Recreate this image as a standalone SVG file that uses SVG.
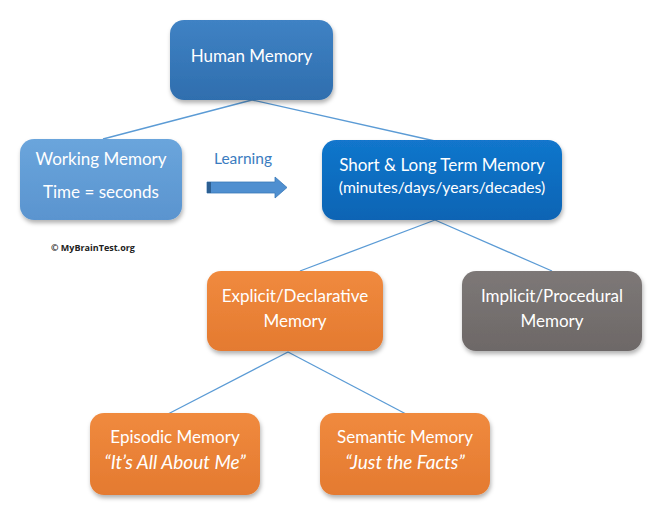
<svg xmlns="http://www.w3.org/2000/svg" width="650" height="525" viewBox="0 0 650 525">
<style>
.t{font-family:Lato,"Liberation Sans",sans-serif;fill:#ffffff;text-anchor:middle;font-size:17px}
.i{font-style:italic;font-size:19px}
.c{stroke:#5b9bd5;stroke-width:1.3;fill:none}
</style>
<defs>
<filter id="sh" x="-10%" y="-10%" width="130%" height="140%">
<feDropShadow dx="1" dy="3" stdDeviation="2" flood-color="#000" flood-opacity="0.3"/>
</filter>
<linearGradient id="gBlue" x1="0" y1="0" x2="0" y2="1"><stop offset="0" stop-color="#3f82c4"/><stop offset="1" stop-color="#2f6eae"/></linearGradient>
<linearGradient id="gLight" x1="0" y1="0" x2="0" y2="1"><stop offset="0" stop-color="#6aa5dc"/><stop offset="1" stop-color="#5a94cf"/></linearGradient>
<linearGradient id="gDark" x1="0" y1="0" x2="0" y2="1"><stop offset="0" stop-color="#1276cc"/><stop offset="1" stop-color="#0864b4"/></linearGradient>
<linearGradient id="gOr" x1="0" y1="0" x2="0" y2="1"><stop offset="0" stop-color="#f08a3e"/><stop offset="1" stop-color="#e47a30"/></linearGradient>
<linearGradient id="gGr" x1="0" y1="0" x2="0" y2="1"><stop offset="0" stop-color="#7d7877"/><stop offset="1" stop-color="#6d6867"/></linearGradient>
</defs>
<rect width="650" height="525" fill="#ffffff"/>
<g id="connectors">
<line class="c" x1="252" y1="100" x2="103" y2="139"/>
<line class="c" x1="252" y1="100" x2="435" y2="141"/>
<line class="c" x1="435" y1="220" x2="300" y2="271"/>
<line class="c" x1="435" y1="220" x2="552" y2="271"/>
<line class="c" x1="288" y1="352" x2="168" y2="414"/>
<line class="c" x1="288" y1="352" x2="406" y2="414"/>
</g>
<g id="human-memory">
<rect x="170" y="20" width="163" height="80" rx="14" fill="url(#gBlue)" filter="url(#sh)"/>
<text class="t" x="251.5" y="62">Human Memory</text>
</g>
<g id="working-memory">
<rect x="20" y="139" width="162" height="81" rx="14" fill="url(#gLight)" filter="url(#sh)"/>
<text class="t" x="101" y="165">Working Memory</text>
<text class="t" x="101" y="198">Time = seconds</text>
</g>
<g id="learning">
<text x="243" y="164" style="font-family:Lato,'Liberation Sans',sans-serif;font-size:15.5px;fill:#3b7cc0;text-anchor:middle">Learning</text>
<polygon points="207,182 275,182 275,177 287,187.5 275,198 275,193 207,193" fill="#4f8fd0" stroke="#3a79b8" stroke-width="0.8"/>
<rect x="207" y="182" width="4" height="11" fill="#2c5f92"/>
</g>
<g id="copyright">
<text x="93" y="251" style="font-family:'Open Sans','Liberation Sans',sans-serif;font-size:9px;font-weight:bold;fill:#222;text-anchor:middle">© MyBrainTest.org</text>
</g>
<g id="short-long-term-memory">
<rect x="322" y="140" width="240" height="80" rx="14" fill="url(#gDark)" filter="url(#sh)"/>
<text class="t" x="442" y="171">Short &amp; Long Term Memory</text>
<text class="t" x="442" y="193" style="font-size:15.7px">(minutes/days/years/decades)</text>
</g>
<g id="explicit-memory">
<rect x="207" y="271" width="176" height="80" rx="14" fill="url(#gOr)" filter="url(#sh)"/>
<text class="t" x="295" y="302">Explicit/Declarative</text>
<text class="t" x="295" y="327">Memory</text>
</g>
<g id="implicit-memory">
<rect x="462" y="271" width="180" height="80" rx="14" fill="url(#gGr)" filter="url(#sh)"/>
<text class="t" x="552" y="302">Implicit/Procedural</text>
<text class="t" x="552" y="327">Memory</text>
</g>
<g id="episodic-memory">
<rect x="90" y="413" width="170" height="82" rx="14" fill="url(#gOr)" filter="url(#sh)"/>
<text class="t" x="175" y="443">Episodic Memory</text>
<text class="t i" x="175" y="469">“It’s All About Me”</text>
</g>
<g id="semantic-memory">
<rect x="320" y="413" width="170" height="82" rx="14" fill="url(#gOr)" filter="url(#sh)"/>
<text class="t" x="405" y="443">Semantic Memory</text>
<text class="t i" x="405" y="469">“Just the Facts”</text>
</g>
</svg>
